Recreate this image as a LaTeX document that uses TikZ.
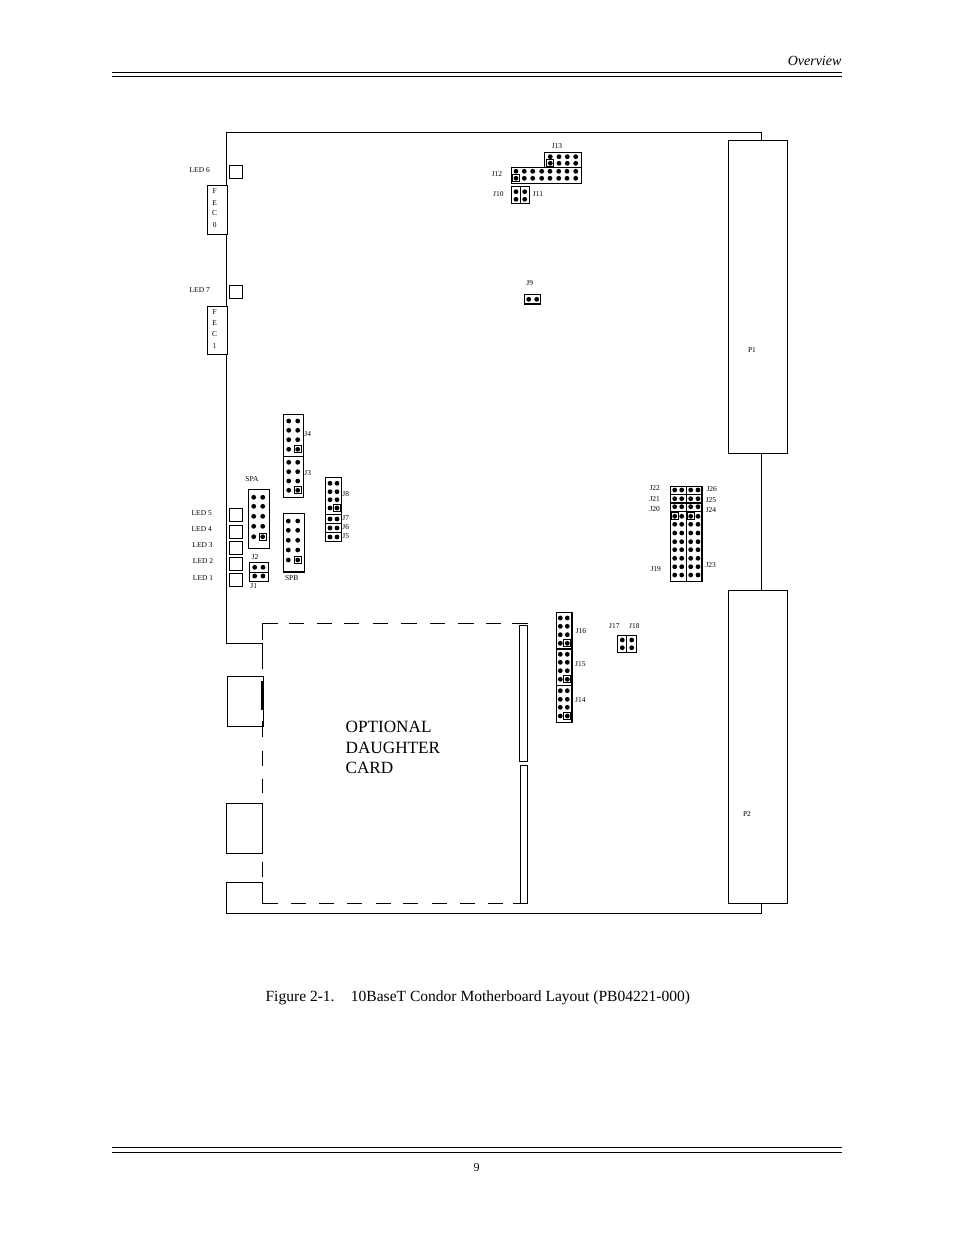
\documentclass[tikz,border=0pt]{standalone}
\usepackage{fontspec}
\setmainfont{Liberation Serif}
\newcommand{\pins}[2]{\foreach \x in {#1} \foreach \y in {#2} \fill (\x,\y) circle (1.8pt);}
\newcommand{\keypin}[2]{\draw [thick] (#1-3.4,#2-3.4) rectangle (#1+3.4,#2+3.4);}
\tikzset{
  tag/.style={inner sep=0pt, yshift=-0.4pt, font=\fontsize{5.6}{6}\selectfont},
  part/.style={line width=0.9pt},
  rule/.style={line width=0.9pt},
  cut/.style={line width=0.9pt}
}
\begin{document}
\begin{tikzpicture}[x=0.75pt, y=-0.75pt, line width=0.9pt]
\useasboundingbox (0,0) rectangle (954,1235);
% page furniture
\draw [rule] (112,72.3) -- (842,72.3);
\draw [line width=0.6pt] (112,76.3) -- (842,76.3);
\draw [rule] (112,1147.4) -- (842,1147.4);
\draw [line width=0.6pt] (112,1152) -- (842,1152);
\node [anchor=east, inner sep=0pt, font=\fontsize{10.5}{12}\itshape] (overview) at (842,61.3) {Overview};
\node [inner sep=0pt, font=\fontsize{9}{10}\selectfont] (pagenum) at (476.7,1167.5) {9};
\node [anchor=west, inner sep=0pt, font=\fontsize{11.65}{13}\selectfont] (caption) at (265,997.3) {Figure 2-1.\hspace{1.05em}10BaseT Condor Motherboard Layout (PB04221-000)};
% board outline
\draw (226.3,643.3) -- (226.3,132.3) -- (761.7,132.3) -- (761.7,140.3);
\draw (761.7,453.3) -- (761.7,590.7);
\draw (761.7,903.3) -- (761.7,913.3) -- (226.3,913.3) -- (226.3,882.3) -- (263.3,882.3);
\draw (226.3,643.3) -- (263.3,643.3);
\draw [part] (728.3,140.3) rectangle (787.7,453.3);
\draw [part] (728.3,590.7) rectangle (787.7,903.3);
\node [tag] (p1) at (752,349.5) {P1};
\node [tag] (p2) at (747,813.5) {P2};
% front panel cut-outs
\draw (227.3,676.3) rectangle (263.3,726.3);
\draw (226.3,803.3) rectangle (262.3,853.3);
\draw [line width=1.5pt] (262.3,681) -- (262.3,709.7);
\draw [line width=1.2pt] (262.3,721) -- (262.3,737.3);
% daughter card outline
\draw [cut] (277.7,623.3) -- (262.5,623.3) -- (262.5,640);
\draw [cut] (262.5,643.3) -- (262.5,668.7);
\foreach \a/\b in {751/765.7, 779/793.3, 862.3/876.7} \draw [cut] (262.5,\a) -- (262.5,\b);
\draw [cut] (262.5,882.3) -- (262.5,903.4) -- (277.7,903.4);
\foreach \a/\b in {289/304, 317/332, 344/359.3, 372.7/388, 401.3/416.7, 430/445.3, 458.3/473.7, 486.3/501, 512/527.7} \draw [cut] (\a,623.3) -- (\b,623.3);
\foreach \a/\b in {290.7/306, 319/334.3, 347/362.3, 375.7/391, 403/418.3, 432/447.3, 460/475.3, 488/503.3, 513.3/528.3} \draw [cut] (\a,903.4) -- (\b,903.4);
\draw [part] (519.5,625.3) rectangle (527.3,761.3);
\draw [part] (520.4,765.3) rectangle (527.4,903.4);
\node [anchor=north west, inner sep=0pt, align=left, font=\fontsize{12.9}{15.3}\selectfont] (card) at (345,720.7) {OPTIONAL\\DAUGHTER\\CARD};
% LEDs and FEC
\foreach \a in {165.3, 285.3, 508.3, 525.3, 541.3, 557.3, 573.3} \draw [part] (229.3,\a) rectangle (242.7,\a+13);
\node [tag] (led6) at (199.7,169.5) {LED 6};
\node [tag] (led7) at (199.7,289.7) {LED 7};
\node [tag] (led5) at (201.7,512.7) {LED 5};
\node [tag] (led4) at (201.7,528.3) {LED 4};
\node [tag] (led3) at (202.5,544.3) {LED 3};
\node [tag] (led2) at (203,560.3) {LED 2};
\node [tag] (led1) at (203,577.3) {LED 1};
\draw [part, fill=white] (207.3,185.3) rectangle (227.3,234.3);
\draw [part, fill=white] (207.3,306.7) rectangle (227.3,354.7);
\foreach \t/\a in {F/191, E/202.3, C/213, 0/224.3} \node [tag] at (214.7,\a) {\t};
\foreach \t/\a in {F/312, E/323, C/334, 1/345.7} \node [tag] at (214.7,\a) {\t};
% J12 J13 J10 J11 J9
\draw [part] (544.3,167.3) -- (544.3,152.3) -- (581.3,152.3) -- (581.3,167.3);
\draw [part] (511.3,167.3) rectangle (581.3,183.3);
\draw [part] (511.3,186.3) rectangle (529.7,203.7);
\draw [part] (520.7,186.3) -- (520.7,203.7);
\draw [part] (524.7,294.7) rectangle (540.3,304);
\pins{550.3,559,567.3,575.7}{156.7,163.3}
\pins{516,524.3,532.7,541.7,550,558.7,567,575.7}{171.3,178.3}
\pins{516,524.7}{191.7,199.3}
\pins{528.7,536.7}{299.3}
\keypin{550.3}{163.3}
\keypin{516}{178.3}
\node [tag] (j13) at (557,145.3) {J13};
\node [tag] (j12) at (497,173.7) {J12};
\node [tag] (j10) at (498.3,193.3) {J10};
\node [tag] (j11) at (538,193.3) {J11};
\node [tag] (j9) at (529.7,282.3) {J9};
% J3 J4 SPA SPB
\draw [part] (283.3,414.3) rectangle (303.3,497.3);
\draw [part] (283.3,456.7) -- (303.3,456.7);
\pins{288.7,297.7}{421,430.3,439.7,449.3,462.3,471.7,481,490.3}
\keypin{297.7}{449.3}
\keypin{297.7}{490.3}
\draw [part] (248.3,489.3) rectangle (269.7,548.3);
\pins{253.7,262.7}{497.3,506.3,516.3,526.3,536.7}
\keypin{262.7}{536.7}
\draw [part] (283.3,513.3) rectangle (304.7,572);
\pins{288.3,297.7}{521,530.3,540.3,550,560}
\keypin{297.7}{560}
\node [tag] (j4) at (307.7,433.3) {J4};
\node [tag] (j3) at (307.7,472.3) {J3};
\node [tag] (spa) at (252,478.7) {SPA};
\node [tag] (spb) at (291.7,577.7) {SPB};
% J5 J6 J7 J8 J1 J2
\draw [part] (325.3,477.3) rectangle (341.3,541.7);
\foreach \a in {514.3, 523.7, 532.7} \draw [part] (325.3,\a) -- (341.3,\a);
\pins{330,337}{483.3,491.7,499.7,508,519,528,537}
\keypin{337}{508}
\draw [part] (249.3,562.7) rectangle (268.3,581.7);
\draw [part] (249.3,572.3) -- (268.3,572.3);
\pins{254.7,263}{567.3,576}
\node [tag] (j8) at (345.7,493.7) {J8};
\node [tag] (j7) at (345.7,517.3) {J7};
\node [tag] (j6) at (345.7,526.7) {J6};
\node [tag] (j5) at (345.7,535.3) {J5};
\node [tag] (j2) at (255,556.3) {J2};
\node [tag] (j1) at (253.7,586) {J1};
% J19 to J26
\draw [part] (670.7,486.7) rectangle (702,581.3);
\draw [part] (686.3,486.7) -- (686.3,581.3);
\foreach \a in {494.3, 503, 511.7} \draw [part] (670.7,\a) -- (702,\a);
\pins{674.7,681.7,690.7,698}{490,498.7,506.7,516.3,524.3,533,541.7,549.7,558.3,566.7,575}
\keypin{674.7}{516.3}
\keypin{690.7}{516.3}
\node [tag] (j22) at (654.7,488) {J22};
\node [tag] (j21) at (654.7,499) {J21};
\node [tag] (j20) at (654.7,509) {J20};
\node [tag] (j19) at (655.7,568.7) {J19};
\node [tag] (j26) at (711.7,489) {J26};
\node [tag] (j25) at (711,499.3) {J25};
\node [tag] (j24) at (711,509.3) {J24};
\node [tag] (j23) at (710.7,564.3) {J23};
% J14 to J18
\draw [part] (556.3,612.3) rectangle (572,722.3);
\foreach \a in {649, 685.3} \draw [part] (556.3,\a) -- (572,\a);
\pins{560.3,567.3}{618,626.3,634.7,643.3,654.3,662.3,670.7,679.3,690.7,699.3,707.3,716}
\keypin{567.3}{643.3}
\keypin{567.3}{679.3}
\keypin{567.3}{716}
\draw [part] (617.3,635.3) rectangle (636.7,652.3);
\draw [part] (626.7,635.3) -- (626.7,652.3);
\pins{622.3,631.7}{640,647.7}
\node [tag] (j16) at (581,630.7) {J16};
\node [tag] (j15) at (580.3,663.3) {J15};
\node [tag] (j14) at (580.3,699.3) {J14};
\node [tag] (j17) at (614.3,625.3) {J17};
\node [tag] (j18) at (634.3,625.3) {J18};
\end{tikzpicture}
\end{document}
